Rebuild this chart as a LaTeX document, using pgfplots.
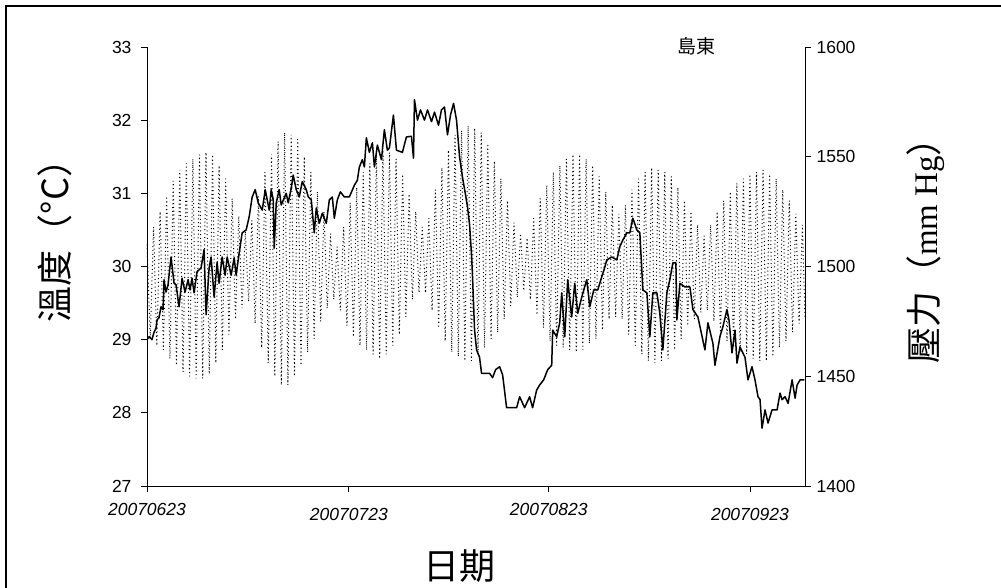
\documentclass[border=0pt]{standalone}
\usepackage{pgfplots}
\pgfplotsset{compat=1.18}
\usepackage{fontspec}
\setmainfont{Liberation Sans}
\newfontfamily\cjk{Noto Sans CJK TC}
\newfontfamily\serif{Liberation Serif}
\pgfplotstableread{
d P
0 1510
0.5 1467
1 1518
1.5 1464
2 1525
2.5 1462
3 1532
3.5 1458
4 1539
4.5 1455
5 1544
5.5 1452
6 1547
6.5 1450
7 1549
7.5 1449
8 1551
8.5 1449
9 1552
9.5 1451
10 1551
10.5 1456
11 1546
11.5 1462
12 1540
12.5 1469
13 1531
13.5 1476
14 1523
14.5 1481
15 1516
15.5 1484
16 1521
16.5 1474
17 1532
17.5 1463
18 1543
18.5 1456
19 1551
19.5 1450
20 1557
20.5 1446
21 1561
21.5 1446
22 1560
22.5 1450
23 1558
23.5 1455
24 1550
24.5 1461
25 1543
25.5 1467
26 1534
26.5 1475
27 1525
27.5 1481
28 1515
28.5 1485
29 1509
29.5 1480
30 1518
30.5 1473
31 1529
31.5 1468
32 1536
32.5 1464
33 1543
33.5 1462
34 1547
34.5 1460
35 1551
35.5 1458
36 1553
36.5 1460
37 1552
37.5 1464
38 1549
38.5 1469
39 1542
39.5 1477
40 1533
40.5 1485
41 1525
41.5 1488
42 1518
42.5 1488
43 1522
43.5 1480
44 1535
44.5 1472
45 1545
45.5 1466
46 1553
46.5 1461
47 1560
47.5 1459
48 1562
48.5 1457
49 1564
49.5 1457
50 1563
50.5 1460
51 1561
51.5 1463
52 1556
52.5 1467
53 1548
53.5 1470
54 1540
54.5 1476
55 1530
55.5 1482
56 1520
56.5 1486
57 1515
57.5 1489
58 1513
58.5 1485
59 1522
59.5 1478
60 1531
60.5 1472
61 1537
61.5 1466
62 1543
62.5 1464
63 1546
63.5 1463
64 1549
64.5 1462
65 1551
65.5 1461
66 1551
66.5 1462
67 1549
67.5 1465
68 1546
68.5 1467
69 1541
69.5 1471
70 1534
70.5 1476
71 1528
71.5 1477
72 1524
72.5 1476
73 1528
73.5 1469
74 1535
74.5 1464
75 1540
75.5 1460
76 1543
76.5 1457
77 1545
77.5 1456
78 1544
78.5 1457
79 1543
79.5 1458
80 1541
80.5 1462
81 1536
81.5 1467
82 1530
82.5 1473
83 1525
83.5 1476
84 1519
84.5 1479
85 1514
85.5 1480
86 1519
86.5 1475
87 1525
87.5 1469
88 1530
88.5 1466
89 1534
89.5 1463
90 1538
90.5 1461
91 1540
91.5 1460
92 1542
92.5 1458
93 1543
93.5 1457
94 1544
94.5 1457
95 1542
95.5 1459
96 1540
96.5 1463
97 1535
97.5 1466
98 1530
98.5 1470
99 1524
99.5 1474
100 1519
100.4 1476
}\pressure
\pgfplotstableread{
d T
0 29.00
0.31 29.04
0.76 29.00
1.07 29.10
1.38 29.16
1.53 29.27
1.83 29.30
2.14 29.45
2.45 29.41
2.60 29.82
2.90 29.65
3.21 29.75
3.67 30.13
4.13 29.77
4.43 29.75
4.89 29.45
5.35 29.84
5.81 29.65
6.27 29.82
6.57 29.68
6.88 29.84
7.18 29.64
7.64 29.93
8.25 29.98
8.71 30.23
9.02 29.34
9.48 29.98
9.78 30.13
10.24 29.58
10.70 30.06
11.00 29.77
11.46 30.13
11.92 29.88
12.23 30.13
12.84 29.88
13.30 30.12
13.60 29.88
14.06 30.18
14.52 30.46
15.13 30.50
15.59 30.68
16.05 30.95
16.51 31.05
16.97 30.87
17.58 30.77
18.04 31.05
18.65 30.77
18.95 31.05
19.26 30.91
19.41 30.25
19.72 30.87
20.17 31.05
20.48 30.84
21.24 31.00
21.55 30.87
22.01 31.07
22.31 31.25
22.77 31.05
23.23 30.95
23.69 31.16
24.30 31.05
24.61 30.95
25.07 30.91
25.52 30.46
25.83 30.80
26.29 30.59
26.75 30.73
27.36 30.59
27.82 30.91
28.28 30.95
28.58 30.66
29.04 30.91
29.50 31.02
30.11 30.95
30.87 30.95
31.64 31.11
32.10 31.18
32.40 31.36
32.86 31.46
33.17 31.36
33.47 31.76
33.93 31.56
34.39 31.69
34.70 31.36
35.15 31.66
35.77 31.46
36.22 31.87
36.68 31.59
36.99 31.62
37.60 32.07
38.06 31.59
38.97 31.56
39.58 31.77
40.35 31.78
40.66 31.48
40.81 32.28
41.27 32.00
41.73 32.14
42.34 32.00
42.80 32.14
43.41 31.98
43.87 32.11
44.48 31.93
44.93 32.14
45.39 32.18
45.85 31.80
46.31 32.07
46.77 32.23
47.23 32.00
47.69 31.50
48.14 31.22
48.60 30.98
48.91 30.81
49.22 30.57
49.52 30.16
49.67 29.86
49.98 29.13
50.29 28.86
50.74 28.76
51.05 28.54
51.51 28.54
52.27 28.54
52.73 28.48
53.19 28.59
53.80 28.63
54.26 28.52
54.87 28.07
56.40 28.07
56.86 28.22
57.62 28.07
58.38 28.22
58.84 28.07
59.45 28.31
59.91 28.38
60.52 28.45
61.14 28.59
61.75 28.65
61.90 29.13
62.51 29.04
62.97 29.23
63.28 29.64
63.74 29.04
64.19 29.82
64.80 29.31
65.26 29.77
65.72 29.36
66.33 29.58
67.10 29.82
67.56 29.45
68.17 29.68
68.78 29.68
69.39 29.86
69.85 29.99
70.15 30.09
70.92 30.13
71.68 30.09
72.14 30.27
72.60 30.36
73.21 30.46
73.67 30.46
74.13 30.66
74.74 30.50
75.20 30.46
75.66 29.68
76.27 29.64
76.73 29.04
77.18 29.64
77.80 29.64
78.25 29.36
78.71 28.86
79.32 29.64
79.78 29.82
80.24 30.05
80.70 30.05
80.85 29.27
81.31 29.77
82.08 29.72
82.84 29.72
83.30 29.41
84.06 29.31
85.13 28.86
85.59 29.23
86.35 28.95
86.66 28.65
87.42 29.04
87.88 29.18
88.49 29.41
88.80 29.27
89.26 28.82
89.72 29.13
90.02 28.68
90.48 28.90
91.24 28.76
91.70 28.45
92.31 28.63
92.77 28.45
93.23 28.22
93.54 28.18
93.84 27.79
94.30 28.04
94.76 27.86
95.37 28.04
96.14 28.04
96.59 28.27
96.90 28.18
97.36 28.22
97.82 28.13
98.43 28.45
98.89 28.20
99.19 28.38
99.65 28.45
100.3 28.45
}\temperature
\begin{document}
\begin{tikzpicture}
\useasboundingbox (0pt,0pt) rectangle (1001pt,588pt);
\draw[line width=2pt] (6pt,0pt) -- (6pt,582pt) -- (1001pt,582pt);
% pressure (right axis), drawn first so that it lies behind
\begin{axis}[
  at={(147pt,102pt)}, anchor=south west,
  scale only axis, width=658pt, height=439pt,
  xmin=0, xmax=100.4, ymin=1400, ymax=1600,
  axis x line=none, axis y line*=right,
  axis line style={-, line width=0.8pt},
  ytick={1400,1450,...,1600},
  tick align=outside, major tick length=6pt,
  tick style={line width=0.8pt, black},
  yticklabel style={font=\fontsize{17.5}{20}\selectfont, xshift=2pt},
  /pgf/number format/assume math mode=true,
  /pgf/number format/set thousands separator={},
  clip=false,
]
\addplot[black, line width=1pt, dash pattern=on 1pt off 2.8pt] table[x=d, y=P] {\pressure};
\end{axis}
% temperature (left axis)
\begin{axis}[
  at={(147pt,102pt)}, anchor=south west,
  scale only axis, width=658pt, height=439pt,
  xmin=0, xmax=100.4, ymin=27, ymax=33,
  axis x line*=bottom, axis y line*=left,
  axis line style={-, line width=0.8pt},
  ytick={27,28,...,33},
  xtick={0,61.3},
  xticklabels={20070623,20070823},
  extra x ticks={30.8,92},
  extra x tick labels={20070723,20070923},
  extra x tick style={xticklabel style={yshift=-5pt}},
  tick align=outside, major tick length=6pt,
  tick style={line width=0.8pt, black},
  yticklabel style={font=\fontsize{17.5}{20}\selectfont, xshift=-6pt},
  xticklabel style={font=\fontsize{17.5}{20}\selectfont\itshape, yshift=-8pt},
  /pgf/number format/assume math mode=true,
]
\addplot[black, line width=1.5pt, line join=round] table[x=d, y=T] {\temperature};
\end{axis}
\node[rotate=90, font=\cjk\fontsize{36}{38}\selectfont] at (55pt,356pt) {溫度（°C）};
\node[rotate=90, font=\fontsize{36}{38}\selectfont] at (926pt,346pt) {{\cjk 壓力（}{\serif\fontsize{33}{36}\selectfont mm Hg}{\cjk ）}};
\node[font=\cjk\fontsize{36}{38}\selectfont] at (459pt,22pt) {日期};
\node[font=\cjk\fontsize{19}{21}\selectfont] at (696pt,542pt) {島東};
\end{tikzpicture}
\end{document}
